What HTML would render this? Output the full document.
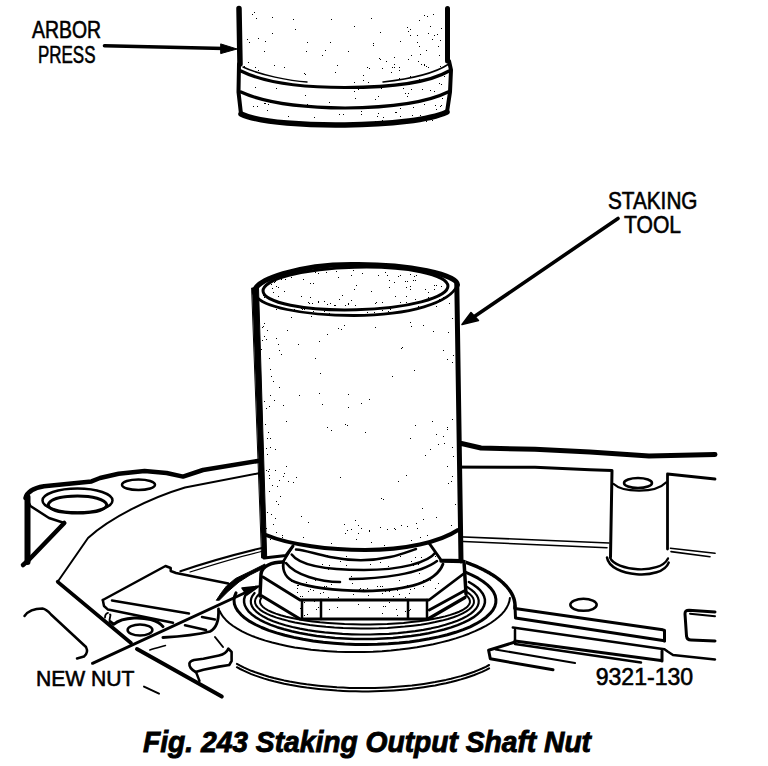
<!DOCTYPE html>
<html><head><meta charset="utf-8">
<style>
html,body{margin:0;padding:0;background:#fff;width:768px;height:766px;overflow:hidden}
svg{display:block}
.t{font-family:"Liberation Sans",sans-serif;fill:#000;stroke:#000;stroke-width:0.6px}
.c{stroke-width:0.9px}
</style></head>
<body>
<svg width="768" height="766" viewBox="0 0 768 766">
<g fill="none" stroke="#000" stroke-linecap="round" stroke-linejoin="round">
<path d="M25.5 498 C27 492 34 488 44 486.3 L91.5 481.4 L100 478 L118.6 473.8 L144.6 471 L166.6 473 L183 476.6 L203 470 L258 461 L300 455" stroke-width="4.5" fill="none" />
<path d="M27.5 497 L27.5 562" stroke-width="6" fill="none" />
<path d="M23 565 L28.7 560 L64.3 523" stroke-width="4.5" fill="none" />
<path d="M64.3 523 L49 518 L30.4 506 L28.7 502.6" stroke-width="2.5" fill="none" />
<ellipse cx="77.5" cy="500.5" rx="35" ry="12" stroke-width="2.5" fill="none"/>
<path d="M48 505 C50 498 65 496 77.5 496 C92 496 105 499 107 505 C105 511 92 513 77.5 513 C63 513 50 511 48 505 Z" stroke-width="3" fill="none" />
<ellipse cx="138.5" cy="484.7" rx="16.5" ry="5.3" stroke-width="2.5" fill="none"/>
<path d="M57.7 581.8 L88 538 C110 518 150 498 185 487.5 L260 473 L300 466" stroke-width="2" fill="none" />
<path d="M57.7 581.8 L131 643" stroke-width="3.7" fill="none" />
<path d="M137 649 L221.8 696.6" stroke-width="4" fill="none" />
<path d="M24.5 616 C28 611 35 608.5 42.5 608.5 C46 609 48 611 51 614.5 L86 647 C88 651 87 654 84 656.5 L77 658.5" stroke-width="2.5" fill="none" />
<path d="M102.8 600 L165.5 566 L170.7 568 L170.7 571 L176 573 L228.3 583.4" stroke-width="2.5" fill="none" />
<path d="M102.8 600 L104 606 L108 609.6 L173 622.7" stroke-width="2.5" fill="none" />
<path d="M112 600.5 L189 613.5" stroke-width="2.5" fill="none" />
<ellipse cx="140" cy="630" rx="12.4" ry="5.5" stroke-width="2.5" fill="none"/>
<path d="M105 617.5 C105 615 106.5 613.2 108 612.8 M110 614.5 L110.5 615 L109.5 620" stroke-width="1.8" fill="none" />
<path d="M110 621.5 L113.6 624.3 C117 621.5 125 618.5 134 618 C145 617.5 158 620 163 626.6" stroke-width="3" fill="none" />
<path d="M185 625.3 L206 630" stroke-width="2.5" fill="none" />
<path d="M202 617 L215 619.6" stroke-width="2.5" fill="none" />
<path d="M162.9 637.5 C180 636.5 200 634 210 631.5 C217 628 219 620 218.5 609" stroke-width="2.8" fill="none" />
<path d="M215 637 L223 647" stroke-width="2" fill="none" />
<path d="M149.8 650 C155 648 160 647 165.5 645.5" stroke-width="1.5" fill="none" />
<path d="M228.4 648.6 L231.6 652 L231.6 661 L229.2 665 L219 666.6 L203.4 669.7 L195.6 672 C192 670 189 667 189.4 663.4 C190 661 192 660.5 194 660 L203.4 658.75 L219 655.6 C224 654.5 227 652 228.4 648.6 Z" stroke-width="2.6" fill="none" />
<path d="M196 672 L199.5 681" stroke-width="2.4" fill="none" />
<path d="M144 686.6 L159 693.6" stroke-width="2" fill="none" />
<path d="M180.4 571.3 C210 561 240 553 270 546" stroke-width="2" fill="none" />
<path d="M190 572 C215 564 240 556 268 550" stroke-width="1.2" fill="none" />
<path d="M420 445 L461.5 443.5 L481 448 L535 449.3 L590 452 L649 456 L715 454.5" stroke-width="5" fill="none" />
<path d="M420 467 L535 467.3 L590 469.8 L612 470.5 L610.5 557" stroke-width="3" fill="none" />
<path d="M667.5 474 L667.5 549 M667.5 474 L715 479" stroke-width="2.8" fill="none" />
<path d="M613.7 484 C622 492 655 494 666 482.5" stroke-width="2.2" fill="none" />
<ellipse cx="638" cy="483" rx="14" ry="5" stroke-width="2.5" fill="none"/>
<path d="M607 557.5 C610 577 662 581 668.7 562.6" stroke-width="2.5" fill="none" />
<path d="M610 557.5 C615 571 660 575 668 558.4" stroke-width="2.3" fill="none" />
<path d="M440 536 L609 543 M440 540.5 L607 547.7" stroke-width="1.6" fill="none" />
<path d="M670.4 548.2 L715 553.3 M671 551.6 L710 556.7" stroke-width="1.6" fill="none" />
<ellipse cx="583.5" cy="604.8" rx="13.2" ry="6" stroke-width="2.5" fill="none"/>
<path d="M516.7 608.75 L662.8 629.8 L664.5 630.5 L664.5 641" stroke-width="3" fill="none" />
<path d="M515 606 L515.5 618 L664.5 640.8" stroke-width="3" fill="none" />
<path d="M512.8 627.5 L664.5 649.2 L668 651.8 L673 655 L715 659.4" stroke-width="2.5" fill="none" />
<path d="M515 630 L515 642" stroke-width="2.5" fill="none" />
<path d="M515 641 L661 660.5 M662 651 L662 661" stroke-width="3" fill="none" />
<path d="M515 644 L641 662.5" stroke-width="2.5" fill="none" />
<path d="M515 642 L488.6 650.3 L490.3 658.8 L553 669.8" stroke-width="3" fill="none" />
<path d="M495.4 649.5 L575 663" stroke-width="2" fill="none" />
<path d="M715 612 L689 610.3 Q684.8 610.3 685 614 L686.5 636 Q687 640 691 640 L715 641" stroke-width="3" fill="none" />
<path d="M690 613.7 L715 616.2" stroke-width="2" fill="none" />
<path d="M465.4 562.2 L467.4 562.9 L469.4 563.6 L471.3 564.4 L473.2 565.1 L475.1 565.9 L476.9 566.7 L478.7 567.5 L480.5 568.3 L482.2 569.2 L483.9 570.0 L485.5 570.9 L487.1 571.7 L488.7 572.6 L490.2 573.5 L491.7 574.4 L493.1 575.3 L494.5 576.2 L495.9 577.2 L497.2 578.1 L498.5 579.1 L499.7 580.0 L500.9 581.0 L502.0 582.0 L503.1 582.9 L504.1 583.9 L505.1 584.9 L506.1 585.9 L507.0 587.0 L507.8 588.0 L508.6 589.0 L509.4 590.0 L510.1 591.1 L510.8 592.1 L511.4 593.1 L512.0 594.2 L512.5 595.2 L513.0 596.3 L513.4 597.4 L513.8 598.4 L514.1 599.5 L514.4 600.6 L514.6 601.6 L514.8 602.7 L514.9 603.8 L515.0 604.8 L515.0 605.9 L515.0 607.0 L514.9 608.1" stroke-width="3.5" fill="none" />
<path d="M509.9 598.0 L509.4 601.2 L508.3 604.4 L506.7 607.6 L504.6 610.8 L501.9 613.9 L498.6 617.0 L494.9 620.0 L490.7 623.0 L485.9 625.8 L480.7 628.5 L475.1 631.2 L469.1 633.7 L462.6 636.1 L455.8 638.4 L448.6 640.5 L441.1 642.4 L433.3 644.2 L425.2 645.8 L416.9 647.3 L408.4 648.5 L399.7 649.6 L390.9 650.5 L382.0 651.2 L373.0 651.7 L364.0 652.0 L355.0 652.1 L346.0 652.0 L337.1 651.7 L328.3 651.2 L319.6 650.6 L311.1 649.7 L302.8 648.6 L294.7 647.4 L286.9 645.9 L279.4 644.3 L272.2 642.5 L265.4 640.6 L258.9 638.5 L252.9 636.3 L247.2 633.9 L242.0 631.4 L237.3 628.7 L233.1 626.0 L229.4 623.2 L226.1 620.2 L223.4 617.2 L221.3 614.1 L219.7 611.0" stroke-width="2" fill="none" />
<path d="M489.1 665.0 L485.8 666.8 L482.1 668.5 L478.3 670.1 L474.3 671.7 L470.0 673.2 L465.5 674.7 L460.9 676.1 L456.0 677.4 L451.0 678.7 L445.9 679.9 L440.5 681.0 L435.1 682.1 L429.5 683.0 L423.7 683.9 L417.9 684.7 L411.9 685.5 L405.9 686.1 L399.8 686.6 L393.6 687.1 L387.4 687.5 L381.1 687.8 L374.8 688.0 L368.4 688.1 L362.1 688.1 L355.7 688.0 L349.4 687.9 L343.1 687.6 L336.9 687.3 L330.7 686.8 L324.5 686.3 L318.5 685.7 L312.5 685.0 L306.6 684.3 L300.8 683.4 L295.2 682.5 L289.6 681.5 L284.2 680.4 L279.0 679.2 L273.9 678.0 L269.0 676.7 L264.3 675.3 L259.8 673.8 L255.4 672.3 L251.3 670.8 L247.4 669.1 L243.6 667.4 L240.2 665.7 L236.9 663.9" stroke-width="2" fill="none" />
<path d="M489.1 668.3 L485.8 670.1 L482.1 671.8 L478.3 673.4 L474.3 675.0 L470.0 676.5 L465.5 678.0 L460.9 679.4 L456.0 680.7 L451.0 682.0 L445.9 683.2 L440.5 684.3 L435.1 685.4 L429.5 686.3 L423.7 687.2 L417.9 688.0 L411.9 688.8 L405.9 689.4 L399.8 689.9 L393.6 690.4 L387.4 690.8 L381.1 691.1 L374.8 691.3 L368.4 691.4 L362.1 691.4 L355.7 691.3 L349.4 691.2 L343.1 690.9 L336.9 690.6 L330.7 690.1 L324.5 689.6 L318.5 689.0 L312.5 688.3 L306.6 687.6 L300.8 686.7 L295.2 685.8 L289.6 684.8 L284.2 683.7 L279.0 682.5 L273.9 681.3 L269.0 680.0 L264.3 678.6 L259.8 677.1 L255.4 675.6 L251.3 674.1 L247.4 672.4 L243.6 670.7 L240.2 669.0 L236.9 667.2" stroke-width="2" fill="none" />
<path d="M465.4 572.2 L472.0 575.1 L478.0 578.2 L483.1 581.5 L487.4 584.9 L490.9 588.3 L493.5 591.9 L495.2 595.6 L495.9 599.2 L495.8 602.9 L494.8 606.6 L492.8 610.2 L489.9 613.7 L486.2 617.2 L481.6 620.5 L476.2 623.7 L470.1 626.8 L463.2 629.6 L455.6 632.3 L447.4 634.7 L438.6 636.9 L429.3 638.8 L419.5 640.5 L409.4 641.9 L398.9 643.0 L388.2 643.8 L377.4 644.3 L366.4 644.5 L355.5 644.4 L344.6 644.0 L333.9 643.2 L323.3 642.2 L313.1 640.9 L303.2 639.3 L293.8 637.4 L284.9 635.3 L276.5 632.9 L268.7 630.3 L261.7 627.5 L255.3 624.5 L249.7 621.4 L244.9 618.1 L241.0 614.6 L237.9 611.1 L235.7 607.5 L234.4 603.9 L234.0 600.2 L234.5 596.5 L236.0 592.9" stroke-width="3" fill="none" />
<path d="M468.9 582.0 L473.4 584.7 L477.2 587.5 L480.3 590.4 L482.6 593.4 L484.1 596.5 L484.9 599.5 L484.9 602.6 L484.1 605.6 L482.5 608.7 L480.2 611.6 L477.1 614.5 L473.3 617.4 L468.7 620.1 L463.5 622.7 L457.6 625.1 L451.2 627.4 L444.1 629.5 L436.6 631.4 L428.6 633.2 L420.1 634.7 L411.3 636.0 L402.2 637.1 L392.9 637.9 L383.4 638.5 L373.7 638.9 L364.0 639.0 L354.3 638.9 L344.6 638.5 L335.1 637.9 L325.8 637.0 L316.7 635.9 L307.9 634.6 L299.5 633.0 L291.6 631.2 L284.1 629.3 L277.1 627.2 L270.7 624.8 L264.9 622.4 L259.8 619.8 L255.3 617.1 L251.5 614.2 L248.5 611.3 L246.3 608.3 L244.8 605.3 L244.1 602.2 L244.1 599.2 L245.0 596.1 L246.6 593.1" stroke-width="2.5" fill="none" />
<path d="M463.5 585.0 L467.8 587.4 L471.4 589.9 L474.4 592.4 L476.6 595.1 L478.0 597.7 L478.7 600.4 L478.6 603.1 L477.8 605.8 L476.2 608.5 L473.8 611.1 L470.8 613.6 L467.0 616.1 L462.5 618.5 L457.4 620.7 L451.7 622.8 L445.4 624.8 L438.5 626.7 L431.2 628.3 L423.4 629.8 L415.2 631.1 L406.6 632.2 L397.8 633.1 L388.8 633.8 L379.6 634.2 L370.3 634.5 L361.0 634.5 L351.7 634.3 L342.5 633.9 L333.4 633.2 L324.6 632.4 L316.0 631.3 L307.8 630.1 L299.9 628.6 L292.4 627.0 L285.5 625.2 L279.0 623.3 L273.2 621.2 L267.9 618.9 L263.3 616.6 L259.4 614.1 L256.2 611.6 L253.7 609.0 L252.0 606.3 L251.0 603.7 L250.8 601.0 L251.3 598.3 L252.6 595.6 L254.6 593.0" stroke-width="2.2" fill="none" />
<path d="M459.3 588.0 L463.5 590.0 L467.0 592.0 L469.8 594.1 L471.9 596.2 L473.3 598.4 L473.9 600.6 L473.9 602.8 L473.1 605.0 L471.5 607.2 L469.3 609.3 L466.3 611.4 L462.7 613.4 L458.4 615.4 L453.5 617.2 L448.0 619.0 L441.9 620.6 L435.3 622.1 L428.3 623.4 L420.8 624.7 L412.9 625.7 L404.7 626.6 L396.3 627.3 L387.6 627.9 L378.8 628.3 L369.9 628.5 L360.9 628.5 L352.0 628.3 L343.1 628.0 L334.4 627.5 L325.9 626.8 L317.7 625.9 L309.8 624.9 L302.2 623.7 L295.0 622.4 L288.3 620.9 L282.2 619.3 L276.5 617.6 L271.5 615.8 L267.1 613.8 L263.3 611.8 L260.2 609.8 L257.9 607.6 L256.2 605.5 L255.2 603.3 L255.0 601.1 L255.5 598.9 L256.8 596.7 L258.7 594.5" stroke-width="2" fill="none" />
<path d="M455.9 590.0 L459.9 591.7 L463.3 593.4 L466.0 595.2 L468.0 597.0 L469.3 598.9 L469.9 600.7 L469.9 602.6 L469.1 604.5 L467.6 606.4 L465.5 608.2 L462.7 610.0 L459.2 611.7 L455.1 613.3 L450.3 614.9 L445.1 616.4 L439.2 617.8 L432.9 619.0 L426.2 620.2 L419.0 621.2 L411.4 622.1 L403.6 622.9 L395.5 623.5 L387.2 624.0 L378.7 624.3 L370.2 624.5 L361.6 624.5 L353.0 624.3 L344.5 624.1 L336.2 623.6 L328.0 623.0 L320.1 622.3 L312.5 621.4 L305.2 620.4 L298.4 619.3 L292.0 618.0 L286.1 616.7 L280.7 615.2 L275.8 613.6 L271.6 612.0 L268.0 610.3 L265.0 608.5 L262.7 606.7 L261.1 604.9 L260.2 603.0 L260.0 601.1 L260.5 599.2 L261.7 597.4 L263.6 595.5" stroke-width="2" fill="none" />
<path d="M261 566 L261 597 L300 619 L428 619 L466 595 L466 561 L441 558 L292 548 Z" fill="#fff" stroke="none"/>
<path d="M296 549.5 C305 550 315 554 330 557 C350 561 370 561.5 390 557 C400 555 410 551 416 549" stroke-width="2.5" fill="none" />
<path d="M291.7 554.5 C300 566 330 570 364 570 C400 570 428 563 436 552" stroke-width="2.5" fill="none" />
<path d="M286 563 C295 575 320 582 340 582" stroke-width="2.5" fill="none" />
<path d="M350 579 C380 579 420 574 437 561" stroke-width="2.5" fill="none" />
<path d="M283.5 562 C282 572 287 579 295 582 C310 587.5 335 590.5 364 591 C405 590.5 436 583 443 564" stroke-width="2.8" fill="none" />
<path d="M292 547 L283 562" stroke-width="2.5" fill="none" />
<path d="M283 562 C272 562 262 566 261 574 L260 596" stroke-width="3.5" fill="none" />
<path d="M441 561 L464 561.5 L466 594" stroke-width="3.5" fill="none" />
<path d="M263 577 L300 600 L429 600 L464 573.5" stroke-width="2.8" fill="none" />
<path d="M262 596 L300 619 L428 619 L465 597.5" stroke-width="3.2" fill="none" />
<path d="M429.3 610 L464 591" stroke-width="2.8" fill="none" />
<path d="M302 600 L302 619 M321 600 L321 619 M408 600 L408 618 M427 600 L427 618" stroke-width="2.5" fill="none" />
<path d="M239 8.5 L240 64" stroke-width="5.5" fill="none" />
<path d="M447.5 8.5 L447.5 61" stroke-width="5" fill="none" />
<path d="M239 64 L238.5 92 L241 114" stroke-width="4" fill="none" />
<path d="M449 61 L451 70 L450 92 L447 112" stroke-width="4" fill="none" />
<path d="M241 114 C260 123 310 125.5 345 125 C390 124.5 430 120 447 112" stroke-width="5.5" fill="none" />
<path d="M241 71 C265 83 300 87.5 345 87.5 C395 87.5 430 82 449 71" stroke-width="3.2" fill="none" />
<path d="M243 67 C260 75 290 81 307 82" stroke-width="1.5" fill="none" />
<path d="M383 82 C410 79 435 73 448 64.5" stroke-width="1.5" fill="none" />
<path d="M241 92 C265 103 300 107.5 345 108 C395 107.5 430 101 448 92" stroke-width="3.2" fill="none" />
<path d="M104.5 45.7 L224 48.5" stroke-width="3.6" fill="none" />
<path d="M221 44 L237 49 L221 53.5 Z" stroke-width="1" fill="#000" />
<path d="M255 290 L264.5 558 L286 555.5 L293 546 C330 550 400 552 429 543 L441 560 L461 560.5 L457.5 284 C450 270 400 264 354 264.5 C300 264 252 280 255 290 Z" fill="#fff" stroke="none"/>
<ellipse cx="355.5" cy="288.5" rx="92.5" ry="21.3" stroke-width="3" fill="none" transform="rotate(-1.5 355.5 288.5)"/>
<path d="M256 296 C262 306 300 315.5 354 315.5 C410 315 450 303 457.5 285" stroke-width="2.8" fill="none" />
<path d="M254.5 293 C252 280 300 264 354 264.5 C410 264 458 275 457.5 285" stroke-width="5" fill="none" />
<path d="M252 288 L258.5 288 L266.7 558 L262 558 Z" stroke-width="1" fill="#000" />
<path d="M456.8 284 L461 561" stroke-width="5" fill="none" />
<path d="M266 535 C290 545 330 550 365 550 C405 550 440 542 458 530" stroke-width="4" fill="none" />
<path d="M264 558 L286 555.5 L293 546" stroke-width="3" fill="none" />
<path d="M429 543 L441 560 L461 560.5" stroke-width="3" fill="none" />
<path d="M618 218.5 L470 319.5" stroke-width="3.6" fill="none" />
<path d="M462 324.5 L471 312.5 L478.5 320.5 Z" stroke-width="1.5" fill="#000" />
<path d="M216.5 600 L221.5 592.5 L226.5 586 L235.5 578.5 L249 572 L265 564 L265 567.5 L250 575 L239 582 L228 591.5 L219.5 600 Z" stroke-width="1" fill="#000" />
<path d="M92.5 663.3 L251 590" stroke-width="3" fill="none" />
<path d="M259.5 586 L242 588 L247 595 Z" stroke-width="1.5" fill="#000" />
<path d="M258 70h1v1h-1ZM255 67h1v1h-1ZM331 19h1v1h-1ZM329 102h1v1h-1ZM253 106h1v1h-1ZM408 31h1v1h-1ZM256 18h1v1h-1ZM380 59h1v1h-1ZM403 88h1v1h-1ZM274 65h1v1h-1ZM378 96h1v1h-1ZM419 46h1v1h-1ZM363 75h1v1h-1ZM412 115h1v1h-1ZM248 62h1v1h-1ZM419 20h1v1h-1ZM417 42h1v1h-1ZM382 68h1v1h-1ZM400 108h1v1h-1ZM322 55h1v1h-1ZM371 18h1v1h-1ZM254 12h1v1h-1ZM264 51h1v1h-1ZM419 79h1v1h-1ZM337 65h1v1h-1ZM410 29h1v1h-1ZM435 70h1v1h-1ZM440 106h1v1h-1ZM399 70h1v1h-1ZM441 105h1v1h-1ZM408 93h1v1h-1ZM348 51h1v1h-1ZM249 42h1v1h-1ZM383 117h1v1h-1ZM432 120h1v1h-1ZM424 104h1v1h-1ZM375 99h1v1h-1ZM394 64h1v1h-1ZM439 55h1v1h-1ZM434 91h1v1h-1ZM441 84h1v1h-1ZM354 26h1v1h-1ZM439 83h1v1h-1ZM410 35h1v1h-1ZM426 50h1v1h-1ZM361 111h1v1h-1ZM428 67h1v1h-1ZM355 98h1v1h-1ZM399 67h1v1h-1ZM396 112h1v1h-1ZM367 67h1v1h-1ZM420 115h1v1h-1ZM258 38h1v1h-1ZM288 116h1v1h-1ZM369 68h1v1h-1ZM442 98h1v1h-1ZM265 41h1v1h-1ZM400 41h1v1h-1ZM358 89h1v1h-1ZM255 87h1v1h-1ZM257 106h1v1h-1ZM305 95h1v1h-1ZM247 39h1v1h-1ZM391 72h1v1h-1ZM339 114h1v1h-1ZM408 59h1v1h-1ZM411 55h1v1h-1ZM382 120h1v1h-1ZM411 89h1v1h-1ZM325 50h1v1h-1ZM295 29h1v1h-1ZM413 107h1v1h-1ZM306 51h1v1h-1ZM284 67h1v1h-1ZM252 14h1v1h-1ZM394 84h1v1h-1ZM420 54h1v1h-1ZM441 28h1v1h-1ZM423 81h1v1h-1ZM407 27h1v1h-1ZM410 76h1v1h-1ZM381 88h1v1h-1ZM265 103h1v1h-1ZM394 67h1v1h-1ZM440 66h1v1h-1ZM368 82h1v1h-1ZM305 74h1v1h-1ZM383 86h1v1h-1ZM267 110h1v1h-1ZM440 114h1v1h-1ZM434 35h1v1h-1ZM270 102h1v1h-1ZM422 89h1v1h-1ZM424 65h1v1h-1ZM244 66h1v1h-1ZM307 104h1v1h-1ZM394 104h1v1h-1ZM430 90h1v1h-1ZM444 76h1v1h-1ZM330 42h1v1h-1ZM264 103h1v1h-1ZM432 39h1v1h-1ZM436 109h1v1h-1ZM354 91h1v1h-1ZM373 43h1v1h-1ZM430 26h1v1h-1ZM440 40h1v1h-1ZM304 73h1v1h-1ZM426 66h1v1h-1ZM426 121h1v1h-1ZM272 33h1v1h-1ZM394 57h1v1h-1ZM417 35h1v1h-1ZM435 105h1v1h-1ZM424 64h1v1h-1ZM335 72h1v1h-1ZM373 45h1v1h-1ZM421 64h1v1h-1ZM379 58h1v1h-1ZM378 113h1v1h-1ZM392 67h1v1h-1ZM438 46h1v1h-1ZM377 116h1v1h-1ZM272 17h1v1h-1ZM314 117h1v1h-1ZM437 34h1v1h-1ZM409 102h1v1h-1ZM428 33h1v1h-1ZM424 15h1v1h-1ZM407 96h1v1h-1ZM307 42h1v1h-1ZM395 112h1v1h-1ZM433 14h1v1h-1ZM343 114h1v1h-1ZM405 93h1v1h-1ZM399 78h1v1h-1ZM293 19h1v1h-1ZM421 120h1v1h-1ZM386 61h1v1h-1ZM394 105h1v1h-1ZM268 104h1v1h-1ZM375 121h1v1h-1ZM427 16h1v1h-1ZM361 114h1v1h-1ZM418 61h1v1h-1ZM400 116h1v1h-1ZM363 80h1v1h-1ZM380 32h1v1h-1ZM354 82h1v1h-1ZM276 88h1v1h-1ZM420 537h1v1h-1ZM348 407h1v1h-1ZM283 405h1v1h-1ZM347 425h1v1h-1ZM415 425h1v1h-1ZM451 525h1v1h-1ZM417 528h1v1h-1ZM322 309h1v1h-1ZM293 482h1v1h-1ZM392 376h1v1h-1ZM264 336h1v1h-1ZM262 300h1v1h-1ZM279 387h1v1h-1ZM447 359h1v1h-1ZM308 522h1v1h-1ZM269 491h1v1h-1ZM369 531h1v1h-1ZM320 373h1v1h-1ZM304 309h1v1h-1ZM301 516h1v1h-1ZM448 483h1v1h-1ZM273 524h1v1h-1ZM263 326h1v1h-1ZM327 334h1v1h-1ZM266 470h1v1h-1ZM398 481h1v1h-1ZM423 519h1v1h-1ZM279 350h1v1h-1ZM277 486h1v1h-1ZM322 404h1v1h-1ZM264 401h1v1h-1ZM276 501h1v1h-1ZM411 540h1v1h-1ZM275 518h1v1h-1ZM299 395h1v1h-1ZM394 528h1v1h-1ZM356 539h1v1h-1ZM447 427h1v1h-1ZM329 313h1v1h-1ZM447 429h1v1h-1ZM303 537h1v1h-1ZM425 455h1v1h-1ZM286 421h1v1h-1ZM452 318h1v1h-1ZM395 529h1v1h-1ZM355 520h1v1h-1ZM436 434h1v1h-1ZM318 301h1v1h-1ZM278 344h1v1h-1ZM387 529h1v1h-1ZM372 309h1v1h-1ZM348 303h1v1h-1ZM261 301h1v1h-1ZM282 537h1v1h-1ZM433 331h1v1h-1ZM351 529h1v1h-1ZM452 476h1v1h-1ZM270 539h1v1h-1ZM455 504h1v1h-1ZM327 427h1v1h-1ZM452 362h1v1h-1ZM298 344h1v1h-1ZM270 447h1v1h-1ZM282 535h1v1h-1ZM302 309h1v1h-1ZM447 466h1v1h-1ZM286 466h1v1h-1ZM402 347h1v1h-1ZM269 475h1v1h-1ZM281 540h1v1h-1ZM269 478h1v1h-1ZM401 348h1v1h-1ZM275 449h1v1h-1ZM340 477h1v1h-1ZM432 421h1v1h-1ZM365 432h1v1h-1ZM453 355h1v1h-1ZM264 323h1v1h-1ZM267 330h1v1h-1ZM422 508h1v1h-1ZM331 430h1v1h-1ZM345 424h1v1h-1ZM436 517h1v1h-1ZM345 533h1v1h-1ZM287 330h1v1h-1ZM376 302h1v1h-1ZM271 514h1v1h-1ZM270 395h1v1h-1ZM451 481h1v1h-1ZM401 525h1v1h-1ZM427 535h1v1h-1ZM344 524h1v1h-1ZM267 438h1v1h-1ZM452 419h1v1h-1ZM384 545h1v1h-1ZM341 329h1v1h-1ZM411 326h1v1h-1ZM381 498h1v1h-1ZM348 394h1v1h-1ZM266 528h1v1h-1ZM358 533h1v1h-1ZM315 358h1v1h-1ZM284 473h1v1h-1ZM271 376h1v1h-1ZM283 476h1v1h-1ZM406 475h1v1h-1ZM266 339h1v1h-1ZM319 393h1v1h-1ZM414 370h1v1h-1ZM430 449h1v1h-1ZM275 470h1v1h-1ZM276 532h1v1h-1ZM268 471h1v1h-1ZM361 528h1v1h-1ZM453 456h1v1h-1ZM347 530h1v1h-1ZM270 369h1v1h-1ZM291 317h1v1h-1ZM276 309h1v1h-1ZM296 477h1v1h-1ZM383 499h1v1h-1ZM436 306h1v1h-1ZM338 328h1v1h-1ZM274 400h1v1h-1ZM278 504h1v1h-1ZM269 358h1v1h-1ZM266 448h1v1h-1ZM375 327h1v1h-1ZM280 496h1v1h-1ZM449 303h1v1h-1ZM419 308h1v1h-1ZM273 381h1v1h-1ZM438 444h1v1h-1ZM369 399h1v1h-1ZM319 341h1v1h-1ZM369 530h1v1h-1ZM444 443h1v1h-1ZM262 340h1v1h-1ZM452 447h1v1h-1ZM267 454h1v1h-1ZM371 542h1v1h-1ZM276 338h1v1h-1ZM448 332h1v1h-1ZM331 543h1v1h-1ZM410 322h1v1h-1ZM407 526h1v1h-1ZM279 480h1v1h-1ZM270 438h1v1h-1ZM262 327h1v1h-1ZM288 481h1v1h-1ZM436 540h1v1h-1ZM265 424h1v1h-1ZM344 325h1v1h-1ZM358 525h1v1h-1ZM311 316h1v1h-1ZM380 527h1v1h-1ZM416 523h1v1h-1ZM261 349h1v1h-1ZM266 408h1v1h-1ZM272 485h1v1h-1ZM281 354h1v1h-1ZM423 325h1v1h-1ZM410 438h1v1h-1ZM269 469h1v1h-1ZM361 403h1v1h-1ZM268 432h1v1h-1ZM443 436h1v1h-1ZM269 406h1v1h-1ZM267 512h1v1h-1ZM443 350h1v1h-1ZM436 285h1v1h-1ZM312 303h1v1h-1ZM415 280h1v1h-1ZM324 301h1v1h-1ZM336 271h1v1h-1ZM342 295h1v1h-1ZM434 289h1v1h-1ZM362 273h1v1h-1ZM327 304h1v1h-1ZM274 282h1v1h-1ZM310 297h1v1h-1ZM407 281h1v1h-1ZM272 288h1v1h-1ZM351 275h1v1h-1ZM354 289h1v1h-1ZM338 277h1v1h-1ZM308 302h1v1h-1ZM400 275h1v1h-1ZM271 284h1v1h-1ZM318 302h1v1h-1ZM406 296h1v1h-1ZM273 292h1v1h-1ZM348 304h1v1h-1ZM434 285h1v1h-1ZM281 279h1v1h-1ZM387 275h1v1h-1ZM291 277h1v1h-1ZM428 297h1v1h-1ZM394 282h1v1h-1ZM406 302h1v1h-1ZM415 299h1v1h-1ZM353 270h1v1h-1ZM318 273h1v1h-1ZM410 274h1v1h-1ZM375 303h1v1h-1ZM355 305h1v1h-1ZM414 276h1v1h-1ZM310 283h1v1h-1ZM385 272h1v1h-1ZM345 305h1v1h-1ZM400 302h1v1h-1ZM371 291h1v1h-1ZM334 305h1v1h-1ZM389 280h1v1h-1ZM398 276h1v1h-1ZM275 281h1v1h-1ZM285 279h1v1h-1ZM335 305h1v1h-1ZM405 281h1v1h-1ZM330 303h1v1h-1ZM339 299h1v1h-1ZM326 272h1v1h-1ZM416 275h1v1h-1ZM382 302h1v1h-1ZM315 272h1v1h-1ZM413 280h1v1h-1ZM378 275h1v1h-1ZM276 286h1v1h-1ZM410 289h1v1h-1ZM356 285h1v1h-1ZM278 287h1v1h-1ZM301 296h1v1h-1ZM395 296h1v1h-1ZM313 283h1v1h-1ZM410 286h1v1h-1ZM351 300h1v1h-1ZM303 279h1v1h-1ZM441 286h1v1h-1ZM406 287h1v1h-1ZM425 289h1v1h-1ZM309 303h1v1h-1ZM284 291h1v1h-1ZM278 296h1v1h-1ZM389 287h1v1h-1ZM428 292h1v1h-1ZM382 310h1v1h-1ZM303 308h1v1h-1ZM367 312h1v1h-1ZM374 312h1v1h-1ZM343 314h1v1h-1ZM279 302h1v1h-1ZM265 296h1v1h-1ZM324 311h1v1h-1ZM264 297h1v1h-1ZM403 311h1v1h-1ZM283 303h1v1h-1ZM313 311h1v1h-1ZM439 299h1v1h-1ZM263 295h1v1h-1ZM388 313h1v1h-1ZM437 302h1v1h-1ZM301 308h1v1h-1ZM443 297h1v1h-1ZM440 301h1v1h-1ZM389 312h1v1h-1ZM390 309h1v1h-1ZM388 311h1v1h-1ZM418 306h1v1h-1ZM294 309h1v1h-1ZM312 309h1v1h-1ZM438 583h1v1h-1ZM307 614h1v1h-1ZM435 588h1v1h-1ZM338 597h1v1h-1ZM361 591h1v1h-1ZM298 585h1v1h-1ZM314 586h1v1h-1ZM383 606h1v1h-1ZM329 609h1v1h-1ZM399 594h1v1h-1ZM363 589h1v1h-1ZM297 588h1v1h-1ZM393 596h1v1h-1ZM397 590h1v1h-1ZM409 610h1v1h-1ZM304 602h1v1h-1ZM318 607h1v1h-1ZM410 609h1v1h-1ZM324 586h1v1h-1ZM389 602h1v1h-1ZM310 589h1v1h-1ZM377 586h1v1h-1ZM385 591h1v1h-1ZM328 597h1v1h-1ZM369 607h1v1h-1ZM323 592h1v1h-1ZM385 606h1v1h-1ZM382 613h1v1h-1ZM320 593h1v1h-1ZM389 591h1v1h-1ZM313 590h1v1h-1ZM405 611h1v1h-1ZM397 615h1v1h-1ZM409 593h1v1h-1ZM337 607h1v1h-1ZM303 584h1v1h-1ZM367 588h1v1h-1ZM359 589h1v1h-1ZM368 595h1v1h-1ZM406 586h1v1h-1ZM300 596h1v1h-1ZM362 591h1v1h-1ZM390 590h1v1h-1ZM396 609h1v1h-1ZM382 586h1v1h-1ZM358 604h1v1h-1ZM331 584h1v1h-1ZM382 593h1v1h-1ZM300 608h1v1h-1ZM405 597h1v1h-1ZM302 596h1v1h-1ZM304 615h1v1h-1ZM297 592h1v1h-1ZM405 587h1v1h-1ZM305 585h1v1h-1ZM314 601h1v1h-1ZM414 588h1v1h-1ZM316 609h1v1h-1ZM353 594h1v1h-1ZM308 591h1v1h-1ZM435 556h1v1h-1ZM328 580h1v1h-1ZM423 586h1v1h-1ZM360 588h1v1h-1ZM380 562h1v1h-1ZM359 579h1v1h-1ZM400 556h1v1h-1ZM319 588h1v1h-1ZM306 582h1v1h-1ZM340 561h1v1h-1ZM328 569h1v1h-1ZM438 557h1v1h-1ZM418 564h1v1h-1ZM315 580h1v1h-1ZM341 559h1v1h-1ZM352 583h1v1h-1ZM419 573h1v1h-1ZM291 581h1v1h-1ZM380 586h1v1h-1ZM432 564h1v1h-1ZM417 583h1v1h-1ZM329 565h1v1h-1ZM346 565h1v1h-1ZM346 556h1v1h-1ZM324 586h1v1h-1ZM351 576h1v1h-1ZM423 580h1v1h-1ZM326 586h1v1h-1ZM410 589h1v1h-1ZM399 580h1v1h-1ZM411 561h1v1h-1ZM388 566h1v1h-1ZM415 557h1v1h-1ZM370 564h1v1h-1ZM413 565h1v1h-1ZM416 584h1v1h-1ZM421 557h1v1h-1ZM430 580h1v1h-1ZM391 576h1v1h-1ZM297 585h1v1h-1ZM372 569h1v1h-1ZM340 581h1v1h-1ZM407 585h1v1h-1ZM322 564h1v1h-1ZM327 555h1v1h-1Z" fill="#000" stroke="none"/>
</g>
<text class="t" x="32" y="37.7" font-size="24" textLength="69" lengthAdjust="spacingAndGlyphs">ARBOR</text>
<text class="t" x="38" y="62.7" font-size="24" textLength="57.5" lengthAdjust="spacingAndGlyphs">PRESS</text>
<text class="t" x="608" y="208.8" font-size="24" textLength="89.5" lengthAdjust="spacingAndGlyphs">STAKING</text>
<text class="t" x="624" y="232.7" font-size="24" textLength="57" lengthAdjust="spacingAndGlyphs">TOOL</text>
<text class="t" x="36" y="686.2" font-size="22.7" textLength="98.5" lengthAdjust="spacingAndGlyphs">NEW NUT</text>
<text class="t" x="595.7" y="684.6" font-size="23.3" textLength="97.5" lengthAdjust="spacingAndGlyphs">9321-130</text>
<text class="t c" x="143" y="752.3" font-size="29.5" font-weight="bold" font-style="italic" textLength="448" lengthAdjust="spacingAndGlyphs">Fig. 243 Staking Output Shaft Nut</text>
</svg>
</body></html>
